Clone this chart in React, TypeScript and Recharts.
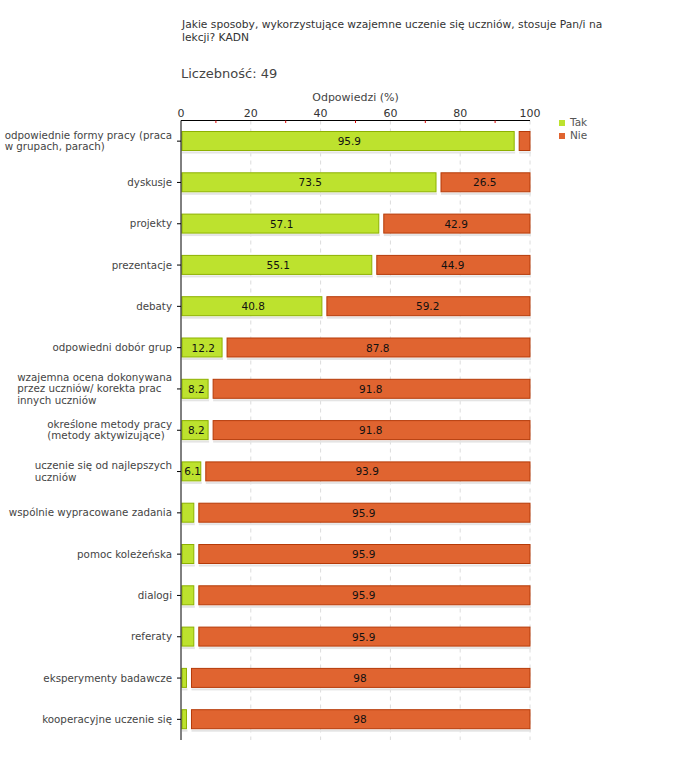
import { BarChart, Bar, XAxis, YAxis, CartesianGrid, LabelList } from 'recharts';

const categories = [
  'odpowiednie formy pracy (praca\nw grupach, parach)',
  'dyskusje',
  'projekty',
  'prezentacje',
  'debaty',
  'odpowiedni dobór grup',
  'wzajemna ocena dokonywana\nprzez uczniów/ korekta prac\ninnych uczniów',
  'określone metody pracy\n(metody aktywizujące)',
  'uczenie się od najlepszych\nuczniów',
  'wspólnie wypracowane zadania',
  'pomoc koleżeńska',
  'dialogi',
  'referaty',
  'eksperymenty badawcze',
  'kooperacyjne uczenie się',
];
const takValues = [95.9, 73.5, 57.1, 55.1, 40.8, 12.2, 8.2, 8.2, 6.1, 4.1, 4.1, 4.1, 4.1, 2, 2];
const nieValues = [4.1, 26.5, 42.9, 44.9, 59.2, 87.8, 91.8, 91.8, 93.9, 95.9, 95.9, 95.9, 95.9, 98, 98];
const allTicks = [0, 10, 20, 30, 40, 50, 60, 70, 80, 90, 100];
const majorTicks = [0, 20, 40, 60, 80, 100];
const seriesNames = ['Tak', 'Nie'];

const TAK = { fill: '#bde22e', stroke: '#8db100' };
const NIE = { fill: '#e06430', stroke: '#b53a08' };
const FONT = '"DejaVu Sans", Verdana, sans-serif';
const LABEL_SIZE = 10.3;

const data = categories.map((name, i) => ({ name, tak: takValues[i], nie: nieValues[i] }));

let ctx: CanvasRenderingContext2D | null = null;
const textWidth = (s: string, size: number) => {
  if (!ctx) ctx = document.createElement('canvas').getContext('2d');
  if (!ctx) return s.length * size * 0.6;
  ctx.font = `${size}px "DejaVu Sans"`;
  return ctx.measureText(s).width;
};

// etykiety kategorii: blok wyrównany do lewej, dosunięty do osi
const CategoryTick = ({ x, y, payload }: any) => {
  const lines = String(payload.value).split('\n');
  const w = Math.max(...lines.map((l) => textWidth(l, LABEL_SIZE)));
  const lh = 11.3;
  const y0 = y - ((lines.length - 1) * lh) / 2 + 3.5;
  return (
    <text fontSize={LABEL_SIZE} fontFamily={FONT} fill="#444">
      {lines.map((l, i) => (
        <tspan key={i} x={x - w} y={y0 + i * lh}>{l}</tspan>
      ))}
    </text>
  );
};

const ValueTick = ({ x, y, payload }: any) => {
  const v = payload.value;
  const axisY = y + 4;
  if (!majorTicks.includes(v)) {
    return <line x1={x} x2={x} y1={axisY} y2={axisY + 2.5} stroke="#e00000" />;
  }
  return (
    <text x={x} y={y} textAnchor="middle" fontSize={11} fontFamily={FONT} fill="#333">{v}</text>
  );
};

const segment = (left: number, right: number) => (props: any) => {
  const { x, y, width, height, fill, stroke } = props;
  const x0 = x + left;
  const w = Math.max(width - left - right, 0);
  return (
    <g>
      <rect x={x0} y={y + height + 1} width={w + 1} height={2} fill="#e4e4e4" />
      <rect x={x0} y={y} width={w} height={height} fill={fill} stroke={stroke} />
    </g>
  );
};

const valueLabel = (props: any) => {
  const { x, y, width, height, value } = props;
  if (value < 5) return null;
  return (
    <text x={x + width / 2 + 1} y={y + height / 2 + 4} textAnchor="middle" fontSize={10.5} fontFamily={FONT} fill="#111">
      {value}
    </text>
  );
};

export default function App() {
  return (
    <div style={{ position: 'absolute', left: 0, top: 0, width: 680, height: 760, background: '#fff' }}>
      <div style={{ position: 'absolute', left: 182, top: 19, fontFamily: FONT, fontSize: 10.7, lineHeight: '12.5px', color: '#333' }}>
        Jakie sposoby, wykorzystujące wzajemne uczenie się uczniów, stosuje Pan/i na<br />lekcji? KADN
      </div>
      <div style={{ position: 'absolute', left: 181, top: 66, fontFamily: FONT, fontSize: 13, color: '#444' }}>
        Liczebność: 49
      </div>
      <div style={{ position: 'absolute', left: 181, top: 91, width: 349, textAlign: 'center', fontFamily: FONT, fontSize: 11, color: '#444' }}>
        Odpowiedzi (%)
      </div>
      <div style={{ position: 'absolute', left: 559, top: 116, fontFamily: FONT, fontSize: 10.5, color: '#555', lineHeight: '13px' }}>
        {seriesNames.map((label, i) => (
          <div key={label} style={{ display: 'flex', alignItems: 'center' }}>
            <span style={{ display: 'inline-block', width: 6, height: 6, background: i === 0 ? TAK.fill : NIE.fill, marginRight: 5 }} />
            {label}
          </div>
        ))}
      </div>
      <BarChart
        width={680}
        height={760}
        data={data}
        layout="vertical"
        margin={{ top: 90.5, right: 150, bottom: 20, left: 0 }}
        barSize={19}
        style={{ position: 'absolute', left: 0, top: 0 }}
      >
        <CartesianGrid horizontal={false} verticalValues={majorTicks.slice(1)} stroke="#dcdcdc" strokeDasharray="4 4" />
        <XAxis
          type="number"
          orientation="top"
          domain={[0, 100]}
          ticks={allTicks}
          interval={0}
          height={30}
          tickSize={0}
          tickMargin={4}
          tickLine={false}
          axisLine={{ stroke: '#000' }}
          tick={<ValueTick />}
        />
        <YAxis
          type="category"
          dataKey="name"
          width={181}
          tickSize={4}
          tickMargin={5}
          interval={0}
          axisLine={{ stroke: '#000' }}
          tickLine={{ stroke: '#000' }}
          tick={<CategoryTick />}
        />
        <Bar dataKey="tak" name={seriesNames[0]} stackId="a" fill={TAK.fill} stroke={TAK.stroke} shape={segment(1, 1.5)} isAnimationActive={false}>
          <LabelList dataKey="tak" content={valueLabel} />
        </Bar>
        <Bar dataKey="nie" name={seriesNames[1]} stackId="a" fill={NIE.fill} stroke={NIE.stroke} shape={segment(3.5, 0)} isAnimationActive={false}>
          <LabelList dataKey="nie" content={valueLabel} />
        </Bar>
      </BarChart>
    </div>
  );
}
